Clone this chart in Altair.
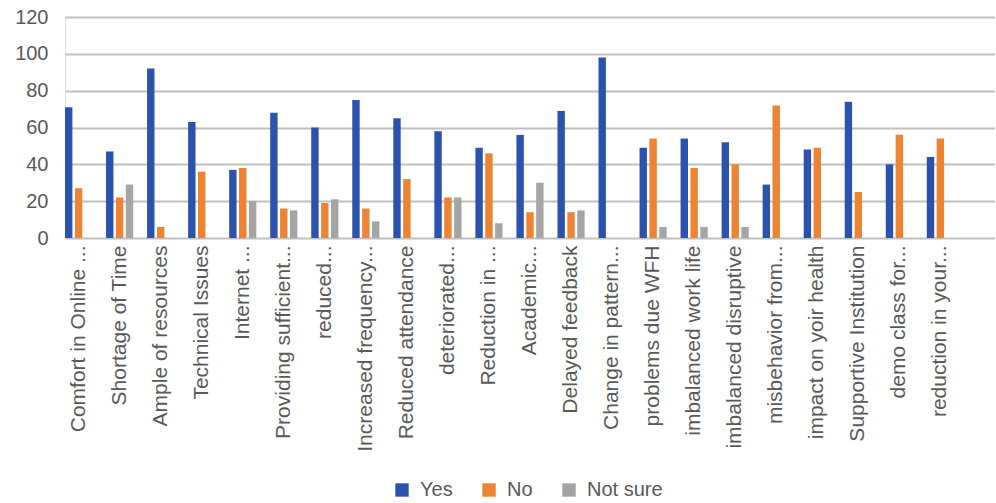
import altair as alt
import pandas as pd

# Survey items on the horizontal axis (long texts were shortened with "...")
categories = [
    "Comfort in Online ...", "Shortage of Time", "Ample of resources",
    "Technical Issues", "Internet ...", "Providing sufficient...", "reduced...",
    "Increased frequency...", "Reduced attendance", "deteriorated...",
    "Reduction in ...", "Academic...", "Delayed feedback", "Change in pattern...",
    "problems due WFH", "imbalanced work life", "imbalanced disruptive",
    "misbehavior from...", "impact on yoir health", "Supportive Institution",
    "demo class for...", "reduction in your...",
]

# Responses per item
yes = [71, 47, 92, 63, 37, 68, 60, 75, 65, 58, 49, 56, 69, 98, 49, 54, 52, 29, 48, 74, 40, 44]
no = [27, 22, 6, 36, 38, 16, 19, 16, 32, 22, 46, 14, 14, 0, 54, 38, 40, 72, 49, 25, 56, 54]
not_sure = [0, 29, 0, 0, 20, 15, 21, 9, 0, 22, 8, 30, 15, 0, 6, 6, 6, 0, 0, 0, 0, 0]

series = ["Yes", "No", "Not sure"]
colors = ["#2B53AE", "#EE8433", "#A5A5A5"]
y_ticks = [0, 20, 40, 60, 80, 100, 120]

FONT = "Liberation Sans"
TEXT = "#595959"

rows = []
for i, cat in enumerate(categories):
    for name, vals in zip(series, [yes, no, not_sure]):
        rows.append({"category": cat, "series": name, "value": vals[i]})
df = pd.DataFrame(rows)

# an empty trailing slot keeps the gridlines running past the last group
x_domain = categories + [""]

chart = (
    alt.Chart(df)
    .mark_bar()
    .encode(
        x=alt.X(
            "category:N",
            sort=x_domain,
            scale=alt.Scale(domain=x_domain, paddingInner=0.338, paddingOuter=0),
            axis=alt.Axis(
                title=None,
                labelAngle=270,
                labelAlign="right",
                labelBaseline="middle",
                labelPadding=7,
                labelFontSize=21,
                labelLimit=0,
                labelColor=TEXT,
                labelFont=FONT,
                ticks=False,
                domain=False,
            ),
        ),
        xOffset=alt.XOffset(
            "series:N",
            sort=series,
            scale=alt.Scale(domain=series, paddingInner=0.25, paddingOuter=0),
        ),
        y=alt.Y(
            "value:Q",
            scale=alt.Scale(domain=[0, 120], nice=False),
            axis=alt.Axis(
                title=None,
                values=y_ticks,
                labelFontSize=20,
                labelColor=TEXT,
                labelFont=FONT,
                labelPadding=17,
                ticks=False,
                domain=False,
                grid=True,
                gridColor="#C0C0C0",
                gridWidth=1.8,
            ),
        ),
        color=alt.Color(
            "series:N",
            sort=series,
            scale=alt.Scale(domain=series, range=colors),
            legend=alt.Legend(
                title=None,
                orient="none",
                direction="horizontal",
                legendX=327,
                legendY=463,
                symbolType="square",
                symbolSize=180,
                symbolStrokeWidth=0,
                labelFontSize=20,
                labelFont=FONT,
                labelColor=TEXT,
                labelOffset=8,
                columnPadding=26,
                padding=0,
            ),
        ),
    )
    .properties(
        width=930,
        height=221,
        autosize=alt.AutoSizeParams(type="none"),
        padding={"left": 65, "top": 17, "right": 0, "bottom": 265},
    )
    .configure_view(stroke=None)
    .configure(background="white")
)

chart.save("out.html", embed_options={"renderer": "svg", "actions": False})
